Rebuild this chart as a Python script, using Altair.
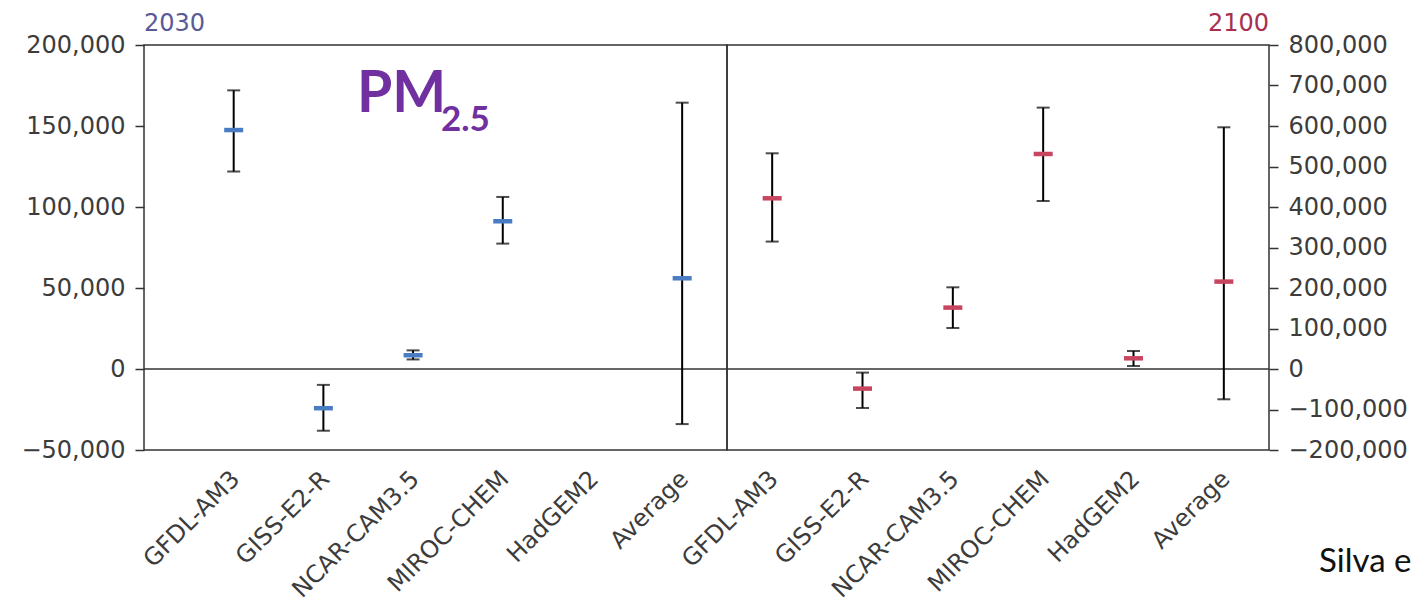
import altair as alt
import pandas as pd

models = ["GFDL-AM3", "GISS-E2-R", "NCAR-CAM3.5", "MIROC-CHEM", "HadGEM2", "Average"]
positions = [1, 2, 3, 4, 5, 6]

mean_2030 = [147500, -24200, 8500, 91200, None, 56000]
low_2030 = [121900, -38100, 5900, 77400, None, -34000]
high_2030 = [172000, -9800, 11500, 106200, None, 164400]

mean_2100 = [421500, -48400, 151600, 530900, 26400, 215800]
low_2100 = [314600, -96300, 101200, 414800, 7400, -74800]
high_2100 = [532600, -8900, 201700, 645400, 44400, 596800]

ticks_2030 = [-50000, 0, 50000, 100000, 150000, 200000]
ticks_2100 = [-200000, -100000, 0, 100000, 200000, 300000, 400000, 500000, 600000, 700000, 800000]

FONT = "DejaVu Sans"
LABEL_COLOR = "#3c3c3c"
label_expr = "[" + ",".join("'%s'" % m for m in models) + "][datum.value - 1]"


def text_layer(txt, x, y, align, size, color, font=FONT, weight="normal"):
    return alt.Chart(pd.DataFrame({"t": [txt]})).mark_text(
        font=font, fontWeight=weight, fontSize=size, color=color,
        align=align, baseline="alphabetic").encode(
        x=alt.value(x), y=alt.value(y), text="t:N")


def panel(mean, low, high, xdomain, ydomain, yticks, orient, color, width,
          extra, axis_extent=None):
    df = pd.DataFrame({"model": models, "pos": positions, "mean": mean,
                       "low": low, "high": high}).dropna()
    xax = alt.Axis(values=positions, labelExpr=label_expr, labelAngle=-45,
                   labelAlign="right", labelBaseline="middle", labelPadding=25,
                   labelOffset=2, labelOverlap=False, ticks=False, domain=False,
                   grid=False, title=None, labelFontSize=24, labelFont=FONT,
                   labelColor=LABEL_COLOR)
    yax_kwargs = dict(values=yticks, format=",.0f", orient=orient, grid=False,
                      domain=False, title=None, labelFontSize=24, labelFont=FONT,
                      labelColor=LABEL_COLOR, tickSize=9, tickWidth=1.5,
                      tickColor="#333333", labelPadding=10, labelOverlap=False)
    if axis_extent is not None:
        yax_kwargs["minExtent"] = axis_extent
        yax_kwargs["maxExtent"] = axis_extent
    yax = alt.Axis(**yax_kwargs)
    xs = alt.Scale(domain=xdomain, nice=False, zero=False)
    ys = alt.Scale(domain=ydomain, nice=False, zero=False)

    def X():
        return alt.X("pos:Q", scale=xs, axis=xax)

    def Y(f):
        return alt.Y(f + ":Q", scale=ys, axis=yax)

    base = alt.Chart(df)
    zero = alt.Chart(pd.DataFrame({"z": [0]})).mark_rule(
        color="#333333", strokeWidth=1.5).encode(y=Y("z"))
    whisk = base.mark_rule(color="black", strokeWidth=2).encode(
        x=X(), y=Y("low"), y2="high:Q")
    cap_lo = base.mark_tick(color="black", orient="horizontal", size=13,
                            thickness=2).encode(x=X(), y=Y("low"))
    cap_hi = base.mark_tick(color="black", orient="horizontal", size=13,
                            thickness=2).encode(x=X(), y=Y("high"))
    mid = base.mark_tick(color=color, orient="horizontal", size=19,
                         thickness=4.5, opacity=1).encode(x=X(), y=Y("mean"))
    layers = [zero, whisk, cap_lo, cap_hi, mid] + extra
    return alt.layer(*layers).properties(width=width, height=405)


left_extra = [
    text_layer("2030", 0, -14, "left", 24, "#5a5a98"),
    text_layer("PM", 213, 67, "left", 57, "#7030a0", font="Lato", weight="bold"),
    text_layer("2.5", 297, 86, "left", 35, "#7030a0", font="Lato", weight="bold"),
]
right_extra = [
    text_layer("2100", 542, -14, "right", 24, "#a8304e"),
    text_layer("Silva e", 592, 527, "left", 33, "#111111", font="Lato"),
]

left = panel(mean_2030, low_2030, high_2030, [0, 6.5], [-50000, 200000], ticks_2030,
             "left", "#4a7cc4", 583, left_extra, axis_extent=130)
right = panel(mean_2100, low_2100, high_2100, [0.5, 6.5], [-200000, 800000], ticks_2100,
              "right", "#c8455f", 542, right_extra)

chart = alt.hconcat(left, right, spacing=0, bounds="flush").resolve_scale(
    x="independent", y="independent").properties(
    padding={"left": 5, "top": 3, "right": 0, "bottom": 0}).configure_view(
    stroke="#333333", strokeWidth=1.5)

chart.save("out.html", embed_options={"renderer": "svg", "actions": False})
